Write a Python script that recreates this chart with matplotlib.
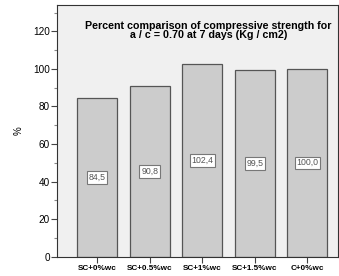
import matplotlib
matplotlib.use("Agg")
import matplotlib.pyplot as plt
from matplotlib.ticker import MultipleLocator

categories = ["SC+0%wc", "SC+0.5%wc", "SC+1%wc", "SC+1.5%wc", "C+0%wc"]
values = [84.5, 90.8, 102.4, 99.5, 100.0]
labels = ["84,5", "90,8", "102,4", "99,5", "100,0"]

plt.rcParams['font.family'] = ['Liberation Sans', 'DejaVu Sans']

fig = plt.figure(figsize=(3.39, 2.76), dpi=100)
fig.patch.set_facecolor('white')
ax = fig.add_axes([57/339, 1 - 256.7/276, (339 - 57)/339 - 0.002, (256.7 - 5)/276])
ax.set_facecolor('#F0F0F0')

x = list(range(len(categories)))
ax.bar(x, values, width=0.76, color='#CCCCCC', edgecolor='#555555', linewidth=0.9, zorder=2)
for xi, v, lab in zip(x, values, labels):
    ax.text(xi, v / 2, lab, ha='center', va='center', fontsize=6.3, color='#555555', zorder=3,
            bbox=dict(boxstyle='square,pad=0.2', facecolor='white', edgecolor='#777777', linewidth=0.8))

ax.set_xlim(-0.765, 4.59)
ax.set_ylim(0, 134)
ax.yaxis.set_major_locator(MultipleLocator(20))
ax.yaxis.set_minor_locator(MultipleLocator(10))
ax.set_xticks(x)
ax.set_xticklabels(categories, fontsize=5.9, fontweight='bold')
ax.tick_params(axis='y', labelsize=7.2, length=4, width=0.8, color='#444444', pad=1)
ax.tick_params(axis='y', which='minor', length=2.5, width=0.8, color='#888888')
ax.tick_params(axis='x', length=4, width=0.8, color='#444444', pad=2)
ax.set_ylabel('%', fontsize=7, labelpad=7)
for s in ax.spines.values():
    s.set_color('#333333')
    s.set_linewidth(0.8)

ax.text(0.538, 0.9, "Percent comparison of compressive strength for\na / c = 0.70 at 7 days (Kg / cm2)",
        transform=ax.transAxes, ha='center', va='center', fontsize=7.7, fontweight='bold',
        linespacing=0.9)

fig.savefig('out.png', dpi=100)
